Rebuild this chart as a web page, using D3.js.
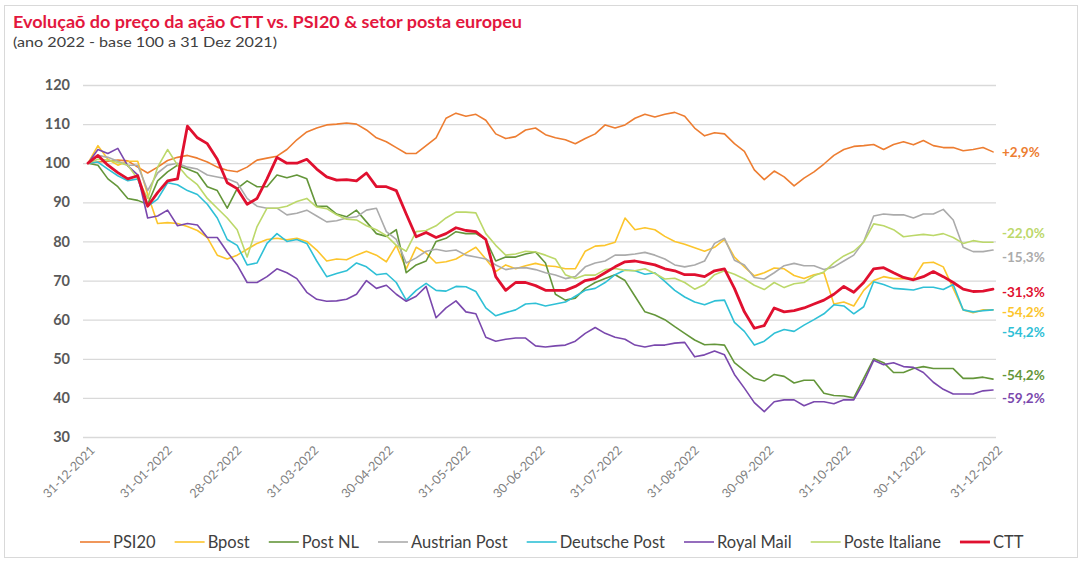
<!DOCTYPE html>
<html>
<head>
<meta charset="utf-8">
<script src="https://cdn.jsdelivr.net/npm/d3@7"></script>
<style>
  html, body { margin: 0; padding: 0; background: #fff; }
  svg { display: block; font-family: Lato, "Open Sans", sans-serif; }
</style>
</head>
<body>
<svg id="chart" width="1082" height="562"></svg>
<script>
// tick labels on the x axis (month ends)
const tickLabels = ["31-12-2021", "31-01-2022", "28-02-2022", "31-03-2022", "30-04-2022", "31-05-2022",
  "30-06-2022", "31-07-2022", "31-08-2022", "30-09-2022", "31-10-2022", "30-11-2022", "31-12-2022"];
const yTicks = [30, 40, 50, 60, 70, 80, 90, 100, 110, 120];

// one reading every 4 days from 31-12-2021 (92 readings)
const seriesNames = ["PSI20", "Bpost", "Post NL", "Austrian Post", "Deutsche Post", "Royal Mail", "Poste Italiane", "CTT"];

const psi20 = [100, 100.3, 100.5, 100.8, 100.6, 99, 97.5, 99, 100.7, 101.5,
  102, 101.3, 100.3, 99, 98.2, 97.8, 99, 100.8, 101.3, 101.8,
  103.5, 106, 108, 109, 109.8, 110, 110.3, 110, 108.5, 106.5,
  105.5, 104, 102.5, 102.5, 104.5, 106.5, 111.5, 112.8, 112, 112.5,
  111, 107.5, 106.3, 106.8, 108.5, 109, 107.3, 106.5, 106, 105,
  106.3, 107.5, 109.8, 109, 109.8, 111.5, 112.5, 111.8, 112.5, 113,
  112, 109, 107, 107.8, 107.5, 105, 103, 98.3, 95.8, 98,
  96.5, 94.2, 96.2, 97.8, 99.8, 102, 103.5, 104.3, 104.5, 104.8,
  103.5, 104.8, 105.5, 104.7, 105.8, 104.5, 104, 104, 103.2, 103.5,
  104, 102.9];

const bpost = [100, 104.5, 101, 99.5, 100.5, 100.5, 92, 84.6, 84.8, 84.6,
  83.8, 82.8, 81, 76.5, 75.5, 76.5, 78, 79.5, 80.5, 80.8,
  80.4, 80.8, 80, 77.8, 75, 75.5, 75.3, 76.5, 77.5, 76.5,
  74.8, 79, 73, 78.5, 77, 74.5, 74.8, 75.5, 77, 78.5,
  75.5, 72.3, 74, 73, 73.8, 74.4, 73.8, 73.6, 73, 73,
  77.5, 78.8, 79, 79.8, 86, 83, 83.5, 83, 81.3, 80,
  79.3, 78.4, 77.5, 78.5, 80.5, 76, 73.5, 71.2, 72, 73.2,
  73, 71.3, 70.5, 71.5, 72, 64, 64.5, 63.5, 67.5, 70,
  71, 70.5, 70.5, 70.5, 74.5, 74.7, 73.5, 68, 62.5, 61.8,
  62.5, 62.5];

const postNL = [100, 99.5, 96, 94, 91, 90.5, 89.5, 95.5, 97.8, 99.5,
  98.5, 97.5, 94, 93, 88.5, 93.5, 95.5, 94, 94, 97,
  96.3, 97, 96, 89, 89, 87, 86.3, 88, 85, 82,
  81.3, 83, 72, 74, 75, 80, 80.8, 82.5, 82, 82,
  80.5, 75, 76, 76, 76.8, 77.3, 74.5, 66.5, 65, 65.5,
  68, 69.5, 70.5, 71.5, 70, 66, 62, 61.2, 60, 58.2,
  56.5, 54.8, 53.6, 53.7, 53.5, 49, 47, 45, 44.3, 46,
  45.5, 43.8, 44.5, 44.5, 41.2, 40.6, 40.5, 40, 45, 50,
  49, 46.5, 46.5, 47.5, 48, 47.5, 47.5, 47.5, 45, 45,
  45.3, 44.8];

const austrianPost = [100, 102, 101.5, 100.5, 99.5, 99.5, 93, 97.5, 99.5, 100,
  99, 98.5, 97, 96.5, 96, 95, 91, 89, 88.5, 88.5,
  86.8, 87.2, 88, 86.5, 85, 85.3, 86, 86.3, 88, 88.5,
  82.5, 80.5, 74.5, 75.8, 77.5, 78, 77.5, 77.8, 76.5, 76,
  75.5, 74, 72.8, 73.2, 73.3, 72.8, 72, 71.4, 70.5, 71,
  73.5, 74.5, 75, 76.5, 76.5, 76.8, 77.2, 76.5, 75.5, 74,
  73.5, 74, 75, 79.5, 80.8, 75.2, 74, 70.8, 70.4, 72,
  73.8, 74.4, 73.8, 73.8, 72.8, 73.5, 75, 76.5, 80, 86.5,
  87, 86.8, 86.8, 86, 87, 87, 88.2, 85.5, 78.5, 77.4,
  77.4, 77.8];

const deutschePost = [100, 100.3, 98.5, 96.8, 95.5, 96, 89, 90.8, 95, 94.5,
  93, 92, 89.5, 86, 80.5, 79, 74, 74.5, 79.5, 82,
  80, 80.5, 79.5, 75, 71, 71.8, 72.5, 74.5, 73.5, 71.5,
  71.8, 69.5, 65, 67.5, 69.3, 67.5, 67.3, 68.5, 68.4, 67.2,
  63, 61, 61.8, 62.5, 64, 64.2, 63.5, 64, 64.5, 66,
  67.5, 68, 69.5, 71.5, 72.7, 72.5, 71.6, 72, 69.8, 67.5,
  65.8, 64.5, 63.8, 64.8, 65, 59.3, 57, 53.5, 54.5, 56.5,
  57.5, 57, 58.6, 60, 61.5, 63.8, 63.5, 61.5, 63.3, 69.7,
  69, 68, 67.8, 67.6, 68.3, 68.3, 67.7, 69, 62.5, 62,
  62.3, 62.5];

const royalMail = [100, 103.5, 102.5, 103.8, 99.3, 97, 86, 86.5, 88, 84,
  84.6, 84.2, 81, 81, 77.3, 74, 69.5, 69.5, 71, 73,
  72, 70.5, 67, 65.2, 64.7, 64.8, 65.2, 66.5, 70, 68,
  68.8, 66.5, 64.7, 66, 68.5, 60.5, 63, 64.8, 62, 61.5,
  55.5, 54.5, 55, 55.3, 55.3, 53.3, 53, 53.3, 53.5, 54.5,
  56.5, 58, 56.5, 55.5, 55, 53.5, 53, 53.5, 53.5, 54,
  54.2, 50.5, 51, 52, 51, 46, 42.5, 38.8, 36.5, 39,
  39.5, 39.5, 38, 39, 39, 38.5, 39.5, 39.5, 44, 49.6,
  48.5, 49, 48, 47.8, 46.5, 44, 42.2, 41, 41, 41,
  41.8, 42];

const posteItaliane = [100, 101, 100.8, 100.2, 99.5, 96, 91, 99, 103.5, 99.5,
  96.5, 94.5, 91, 88.5, 86, 83, 76, 83.8, 88.5, 88.5,
  89, 90.2, 91, 88.8, 88.4, 86.8, 85.7, 85.5, 84, 83,
  81.5, 79, 77.5, 82.5, 82.8, 84, 86, 87.5, 87.5, 87.3,
  82, 79, 76.5, 76.8, 77.5, 77.3, 76.5, 75.5, 71.5, 70.5,
  71.4, 71.4, 72.8, 73.1, 72.6, 72.5, 73, 71.8, 70.4, 70.6,
  69.5, 67.8, 69, 71.5, 72.5, 71.6, 70.4, 68.8, 67.7, 69.5,
  68.2, 69.2, 69.5, 71.2, 72.2, 74.5, 76.3, 77.5, 79.8, 84.5,
  84, 83, 81.2, 81.5, 81.8, 81.5, 82, 81, 79.5, 80.2,
  79.8, 79.8];

const ctt = [100, 102, 99.5, 97.6, 96, 96.8, 89, 92.5, 95.5, 96,
  109.5, 106.5, 105, 101, 95, 93.5, 89.5, 91, 96, 101.5,
  100, 100, 101, 98.5, 96.5, 95.7, 95.8, 95.5, 97.5, 94,
  94, 93, 87, 81.2, 82.3, 81, 82, 83.5, 82.8, 82.5,
  80.5, 71, 67.5, 69.5, 69.5, 68.7, 67.5, 67.5, 67.5, 68.5,
  70, 70.5, 72, 73.5, 74.8, 75, 74.5, 74, 73, 72.5,
  71.5, 71.5, 71, 72.5, 73, 68, 62, 57.8, 58.5, 63,
  62, 62.3, 63, 64, 65, 66.5, 68.5, 67, 69.5, 73,
  73.3, 72, 70.8, 70.2, 71, 72.3, 71, 69.5, 67.8, 67.2,
  67.3, 67.8];

// end-of-year labels and where they sit (in index units)
const endLabelText = ["+2,9%", "-22,0%", "-15,3%", "-31,3%", "-54,2%", "-54,2%", "-54,2%", "-59,2%"];
const endLabelSeries = ["PSI20", "Poste Italiane", "Austrian Post", "CTT", "Bpost", "Deutsche Post", "Post NL", "Royal Mail"];
const endLabelAt = [102.9, 82.2, 76.0, 67.1, 62.0, 56.8, 45.9, 40.0];

const colors = {
  "PSI20": "#ed7d31",
  "Bpost": "#fcc52c",
  "Post NL": "#64963a",
  "Austrian Post": "#ababab",
  "Deutsche Post": "#2fc0d6",
  "Royal Mail": "#7a48ad",
  "Poste Italiane": "#bcd86a",
  "CTT": "#e0102f"
};

const values = [psi20, bpost, postNL, austrianPost, deutschePost, royalMail, posteItaliane, ctt];
const start = new Date(2021, 11, 31);
const periods = d3.range(psi20.length).map(j => d3.timeDay.offset(start, 4 * j));
const parseTick = d3.timeParse("%d-%m-%Y");
const tickDates = tickLabels.map(parseTick);

const svg = d3.select("#chart");

// light frame round the whole picture
svg.append("rect")
  .attr("x", 4.5).attr("y", 5.5)
  .attr("width", 1073).attr("height", 552)
  .attr("fill", "none")
  .attr("stroke", "#d9d9d9");

const x = d3.scaleTime()
  .domain([start, new Date(2022, 11, 30)])
  .range([88, 993]);

const y = d3.scaleLinear()
  .domain([30, 120])
  .range([437, 85]);

// title
svg.append("text")
  .attr("x", 13).attr("y", 28)
  .attr("fill", "#e3173e")
  .attr("font-size", 17)
  .attr("font-weight", "bold")
  .attr("textLength", 509)
  .attr("lengthAdjust", "spacingAndGlyphs")
  .text("Evoluçaõ do preço da ação CTT vs. PSI20 & setor posta europeu");

svg.append("text")
  .attr("x", 13).attr("y", 47)
  .attr("fill", "#404040")
  .attr("font-size", 13.5)
  .attr("textLength", 264)
  .attr("lengthAdjust", "spacingAndGlyphs")
  .text("(ano 2022 - base 100 a 31 Dez 2021)");

// y axis + gridlines
let yAxis = svg.append("g")
  .attr("transform", "translate(83,0)")
  .call(d3.axisLeft(y).tickValues(yTicks).tickSize(-913).tickPadding(13));
yAxis.select(".domain").remove();
yAxis.selectAll(".tick line").attr("stroke", "#d9d9d9").attr("stroke-width", 1.3);
yAxis.selectAll(".tick text")
  .attr("fill", "#595959")
  .attr("font-size", 14.5)
  .attr("font-weight", "bold")
  .attr("font-family", "Lato, sans-serif");

// x axis labels (rotated)
let xAxis = svg.append("g")
  .attr("transform", "translate(0,446)")
  .call(d3.axisBottom(x).tickValues(tickDates).tickSize(0).tickFormat(d3.timeFormat("%d-%m-%Y")));
xAxis.select(".domain").remove();
xAxis.selectAll(".tick text")
  .attr("fill", "#7f7f7f")
  .attr("font-size", 12.5)
  .attr("font-family", "Lato, sans-serif")
  .attr("text-anchor", "end")
  .attr("dy", "0.35em")
  .attr("transform", "translate(2,0) rotate(-45)");

// lines
let line = d3.line()
  .x((d, i) => x(periods[i]))
  .y(d => y(d));

svg.append("g").selectAll("path")
  .data(seriesNames)
  .enter()
  .append("path")
  .attr("d", (name, k) => line(values[k]))
  .attr("fill", "none")
  .attr("stroke", name => colors[name])
  .attr("stroke-width", name => name == "CTT" ? 2.8 : 1.6)
  .attr("stroke-linejoin", "round")
  .attr("stroke-linecap", "round");

// end labels
svg.append("g").selectAll("text")
  .data(endLabelText)
  .enter()
  .append("text")
  .attr("x", 1002)
  .attr("y", (d, i) => y(endLabelAt[i]))
  .attr("dy", "0.35em")
  .attr("fill", (d, i) => colors[endLabelSeries[i]])
  .attr("font-size", 13.5)
  .attr("font-weight", "bold")
  .text(d => d);

// legend
let legend = svg.append("g").attr("transform", "translate(0,542)");
let lx = 80;
seriesNames.forEach(name => {
  legend.append("line")
    .attr("x1", lx).attr("x2", lx + 30)
    .attr("y1", 0).attr("y2", 0)
    .attr("stroke", colors[name])
    .attr("stroke-width", name == "CTT" ? 2.8 : 1.6);
  let t = legend.append("text")
    .attr("x", lx + 33)
    .attr("dy", "0.35em")
    .attr("fill", "#404040")
    .attr("font-size", 16.5)
    .text(name);
  lx += 33 + t.node().getComputedTextLength() + 19;
});
</script>
</body>
</html>
